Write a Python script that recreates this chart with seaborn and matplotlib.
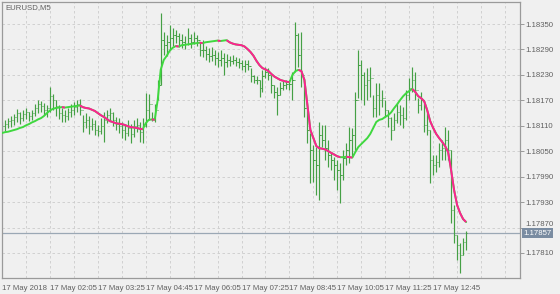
import matplotlib
matplotlib.use("Agg")
import matplotlib.pyplot as plt
import matplotlib.transforms as mtransforms
import seaborn as sns
import numpy as np
import pandas as pd

symbol_title = "EURUSD,M5"
# prices in points (1e-5)
highs = [118119,118124,118128,118133,118138,118150,118142,118147,118152,118142,
         118147,118161,118171,118168,118164,118159,118202,118185,118171,118159,
         118152,118147,118152,118161,118166,118171,118173,118135,118140,118133,
         118128,118124,118112,118128,118142,118147,118152,118142,118131,118128,
         118119,118112,118124,118114,118124,118128,118119,118128,118187,118185,
         118142,118161,118218,118376,118331,118324,118348,118341,118336,118329,
         118327,118322,118341,118327,118331,118324,118308,118312,118298,118294,
         118296,118289,118284,118289,118282,118279,118275,118277,118272,118270,
         118265,118265,118265,118246,118230,118227,118218,118242,118249,118246,
         118230,118206,118202,118213,118218,118218,118218,118237,118355,118329,
         118331,118223,118154,118093,118064,118060,118119,118112,118112,118076,
         118046,118036,118029,118022,118053,118069,118107,118105,118190,118289,
         118265,118237,118246,118249,118183,118211,118211,118194,118171,118147,
         118131,118140,118164,118159,118154,118194,118223,118249,118237,118175,
         118190,118164,118142,118100,118041,118041,118069,118076,118107,118100,
         118053,117923,117852,117833,117845,117863]
lows = [118100,118098,118105,118107,118112,118119,118114,118121,118126,118121,
        118124,118133,118140,118142,118135,118131,118142,118147,118133,118126,
        118119,118119,118124,118131,118135,118142,118135,118095,118105,118091,
        118100,118088,118086,118091,118072,118116,118121,118109,118100,118093,
        118081,118076,118086,118069,118083,118095,118072,118069,118107,118124,
        118121,118119,118171,118206,118277,118275,118289,118298,118305,118296,
        118294,118291,118301,118294,118303,118298,118275,118272,118265,118261,
        118263,118253,118249,118251,118230,118249,118251,118256,118251,118246,
        118242,118237,118242,118213,118211,118209,118178,118190,118223,118218,
        118187,118175,118135,118183,118194,118197,118194,118171,118237,118249,
        118202,118131,118069,117975,117977,117946,117935,118060,118029,118012,
        118005,117982,117958,117927,117982,118017,118022,118036,118053,118175,
        118171,118159,118171,118178,118131,118131,118135,118154,118131,118107,
        118076,118100,118116,118112,118105,118124,118171,118190,118171,118140,
        118147,118095,118088,117975,117994,118001,118012,118029,118029,118029,
        117880,117833,117793,117762,117805,117816]
closes = [118109,118114,118121,118124,118131,118140,118128,118138,118142,118133,
          118140,118152,118161,118157,118147,118152,118180,118171,118157,118140,
          118135,118133,118142,118147,118154,118161,118147,118119,118124,118109,
          118114,118100,118098,118109,118124,118135,118140,118124,118114,118109,
          118100,118093,118105,118091,118109,118112,118095,118109,118147,118161,
          118128,118147,118206,118312,118301,118308,118317,118324,118322,118312,
          118308,118303,118317,118308,118317,118312,118289,118289,118279,118275,
          118277,118270,118265,118270,118261,118265,118263,118265,118261,118258,
          118251,118256,118251,118227,118218,118218,118199,118227,118237,118230,
          118206,118190,118183,118199,118206,118209,118209,118218,118324,118277,
          118230,118152,118100,118053,118029,118017,118088,118076,118057,118041,
          118029,118017,118005,117994,118034,118053,118076,118088,118171,118253,
          118230,118206,118218,118223,118152,118183,118171,118175,118147,118128,
          118100,118124,118142,118135,118128,118183,118199,118218,118194,118159,
          118171,118112,118100,118029,118017,118024,118053,118057,118076,118053,
          117911,117852,117828,117805,117835,117857]
opens = [118114,118109,118114,118121,118124,118131,118140,118128,118138,118142,
         118133,118140,118152,118161,118157,118147,118152,118180,118171,118157,
         118140,118135,118133,118142,118147,118154,118161,118147,118119,118124,
         118109,118114,118100,118098,118109,118124,118135,118140,118124,118114,
         118109,118100,118093,118105,118091,118109,118112,118095,118109,118147,
         118161,118128,118147,118206,118312,118301,118308,118317,118324,118322,
         118312,118308,118303,118317,118308,118317,118312,118289,118289,118279,
         118275,118277,118270,118265,118270,118261,118265,118263,118265,118261,
         118258,118251,118256,118251,118227,118218,118218,118199,118227,118237,
         118230,118206,118190,118183,118199,118206,118209,118209,118218,118324,
         118277,118230,118152,118100,118053,118029,118017,118088,118076,118057,
         118041,118029,118017,118005,117994,118034,118053,118076,118088,118171,
         118253,118230,118206,118218,118223,118152,118183,118171,118175,118147,
         118128,118100,118124,118142,118135,118128,118183,118199,118218,118194,
         118159,118171,118112,118100,118029,118017,118024,118053,118057,118076,
         118053,117911,117852,117828,117805,117835]
ma_values = [118093,118095,118096,118098,118100,118102,118105,118107,118111,118114,
             118118,118121,118125,118128,118133,118140,118146,118150,118152,118153,
             118154,118153,118154,118155,118156,118157,118158,118154,118152,118151,
             118148,118145,118140,118135,118131,118126,118121,118119,118116,118115,
             118114,118112,118109,118107,118106,118105,118103,118102,118116,118124,
             118125,118124,118171,118242,118265,118275,118287,118294,118298,118297,
             118300,118301,118302,118303,118304,118305,118306,118305,118307,118308,
             118309,118310,118311,118310,118311,118312,118307,118304,118302,118301,
             118300,118297,118291,118284,118275,118263,118253,118246,118243,118239,
             118232,118226,118222,118218,118216,118214,118213,118230,118239,118242,
             118239,118218,118159,118100,118081,118062,118057,118056,118054,118050,
             118046,118042,118038,118036,118036,118037,118036,118035,118048,118060,
             118067,118074,118081,118091,118105,118119,118124,118126,118131,118135,
             118142,118152,118161,118171,118180,118187,118192,118197,118190,118180,
             118175,118168,118147,118121,118105,118091,118081,118072,118062,118048,
             118005,117958,117923,117904,117890,117883]

x_tick_labels = ["17 May 2018", "17 May 02:05", "17 May 03:25", "17 May 04:45",
                 "17 May 06:05", "17 May 07:25", "17 May 08:45", "17 May 10:05",
                 "17 May 11:25", "17 May 12:45"]
y_tick_values = [1.17810, 1.17870, 1.17930, 1.17990, 1.18050, 1.18110,
                 1.18170, 1.18230, 1.18290, 1.18350]
current_price = 1.17857

df = pd.DataFrame({
    "bar": np.arange(len(closes)),
    "high": np.array(highs) / 1e5,
    "low": np.array(lows) / 1e5,
    "open": np.array(opens) / 1e5,
    "close": np.array(closes) / 1e5,
    "ma": np.array(ma_values) / 1e5,
})

sns.set_style("white")
plt.rcParams["font.family"] = ["Liberation Sans", "DejaVu Sans"]

BG = "#f0f0f0"
BAR = "#45a045"
MA_UP = "#3fd83f"
MA_DN = "#ff2090"
GRID = "#cccccc"
SPINE = "#9a9a9a"
TXT = "#606060"
FS = 5.6

fig = plt.figure(figsize=(5.6, 2.94), dpi=100, facecolor=BG)
ax = fig.add_axes([2/560, 1 - 278/294, 518/560, 276/294])
ax.set_facecolor(BG)

xlim = (0.33, 173.0)
ylim = (1.17751, 1.18402)
ax.set_xlim(*xlim)
ax.set_ylim(*ylim)

# grid
for gx in range(8, 173, 8):
    ax.axvline(gx, color=GRID, lw=0.6, ls=(0, (3, 3)), zorder=0)
for gy in y_tick_values:
    ax.axhline(gy, color=GRID, lw=0.6, ls=(0, (3, 3)), zorder=0)

# current price line
ax.axhline(current_price, color="#9ba8b5", lw=0.9, zorder=1)

# OHLC bars
ax.vlines(df["bar"], df["low"], df["high"], color=BAR, lw=0.85, zorder=2)
ax.hlines(df["open"], df["bar"] - 0.4, df["bar"], color=BAR, lw=0.7, zorder=2)
ax.hlines(df["close"], df["bar"], df["bar"] + 0.4, color=BAR, lw=0.7, zorder=2)

# moving average: green base, pink on falling segments
sns.lineplot(data=df, x="bar", y="ma", color=MA_UP, lw=1.4, ax=ax, zorder=3,
             legend=False)
ma = df["ma"].values
bars = df["bar"].values
i = 1
n = len(ma)
while i < n:
    if ma[i] < ma[i - 1]:
        j = i
        while j + 1 < n and ma[j + 1] < ma[j]:
            j += 1
        ax.plot(bars[i - 1:j + 1], ma[i - 1:j + 1], color=MA_DN, lw=1.4,
                zorder=4, solid_capstyle="butt")
        i = j + 1
    else:
        i += 1

ax.set_xlabel("")
ax.set_ylabel("")

# ticks
ax.yaxis.tick_right()
ax.set_yticks(y_tick_values)
ax.set_yticklabels([f"{v:.5f}" for v in y_tick_values])
ax.set_xticks(list(range(0, 145, 16)))
ax.set_xticklabels(x_tick_labels, ha="left")
ax.tick_params(axis="x", length=4, width=0.7, color=SPINE, labelsize=FS,
               labelcolor=TXT, pad=1, direction="out")
ax.tick_params(axis="y", length=3, width=0.7, color=SPINE, labelsize=FS,
               labelcolor=TXT, pad=1, direction="out")
for lbl in ax.get_xticklabels():
    lbl.set_horizontalalignment("left")

# the 1.17870 label sits partly above the current-price tag
ylbls = ax.get_yticklabels()
shift = mtransforms.ScaledTranslation(0, 4.5 / 100, fig.dpi_scale_trans)
ylbls[1].set_transform(ylbls[1].get_transform() + shift)

for s in ax.spines.values():
    s.set_color(SPINE)
    s.set_linewidth(0.9)

ax.text(0.006, 0.993, symbol_title, transform=ax.transAxes, ha="left",
        va="top", fontsize=FS, color=TXT)

ax.text(1.007, current_price, f"{current_price:.5f}",
        transform=ax.get_yaxis_transform(), ha="left", va="center",
        fontsize=FS, color="white", zorder=10, clip_on=False,
        bbox=dict(boxstyle="square,pad=0.15", fc="#7a8ca1", ec="none"))

fig.savefig("out.png", dpi=100, facecolor=BG)
